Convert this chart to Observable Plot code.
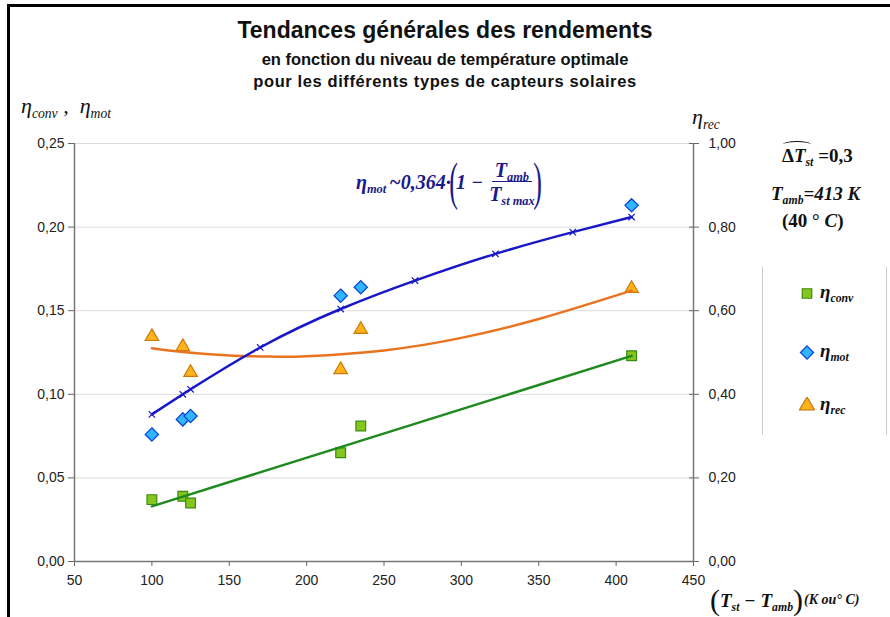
<!DOCTYPE html>
<html><head><meta charset="utf-8">
<script src="https://cdn.jsdelivr.net/npm/d3@7"></script>
<script src="https://cdn.jsdelivr.net/npm/@observablehq/plot@0.6"></script>
<style>
body{margin:0;background:#fff;}
#wrap{position:relative;width:890px;height:617px;overflow:hidden;background:#fff;}
#chart{position:absolute;left:0;top:0;}
.abs{position:absolute;white-space:nowrap;line-height:1;}
.title{font-family:"Liberation Sans",Arial,sans-serif;font-weight:bold;color:#111;text-align:center;width:890px;left:0;}
.m{font-family:"Liberation Serif","Times New Roman",serif;font-style:italic;color:#111;}
.b{font-weight:bold;}
.sub{font-size:62%;position:relative;top:0.35em;}
</style></head>
<body>
<div id="wrap">
<div id="chart"></div>
<div class="abs" style="left:8px;top:4px;width:900px;height:0;border-top:3px solid #000;"></div>
<div class="abs" style="left:7px;top:4px;width:0;height:700px;border-left:3px solid #000;"></div>

<div class="abs title" style="top:19px;font-size:23px;">Tendances générales des rendements</div>
<div class="abs title" style="top:51px;font-size:16.5px;">en fonction du niveau de température optimale</div>
<div class="abs title" style="top:73px;font-size:16.5px;letter-spacing:0.6px;">pour les différents types de capteurs solaires</div>

<div class="abs m" style="left:21px;top:95px;font-size:22px;">η<span class="sub">conv</span> ,&nbsp; η<span class="sub">mot</span></div>
<div class="abs m" style="left:692px;top:106px;font-size:22px;">η<span class="sub">rec</span></div>

<div class="abs m b" style="left:782px;top:146px;font-size:19px;font-style:normal;">Δ<i>T</i><span class="sub"><i>st</i></span> =0,3</div>
<div class="abs" style="left:783px;top:141px;width:28px;height:6px;border-top:1.5px solid #111;border-radius:50% 50% 0 0;"></div>
<div class="abs m b" style="left:771px;top:184px;font-size:19px;"><i>T</i><span class="sub">amb</span>=413 <i>K</i></div>
<div class="abs m b" style="left:782px;top:211px;font-size:19px;font-style:normal;">(40 ° <i>C</i>)</div>

<div class="abs" style="left:762px;top:267px;width:0;height:168px;border-left:1px solid #ccc;"></div>
<div class="abs" style="left:886px;top:267px;width:0;height:168px;border-left:1px solid #ccc;"></div>
<div id="legend"></div>

<div class="abs m b" id="formula" style="left:356px;top:153px;color:#1a1a8c;font-size:20px;display:flex;align-items:center;height:58px;">
  <span>η<span class="sub">mot</span></span><span style="margin-left:3px;">~0,364·</span>
  <span style="font-size:52px;font-style:normal;font-weight:normal;transform:scaleX(0.5);display:inline-block;margin:0 -6px;">(</span>
  <span>1 −</span>
  <span style="display:inline-flex;flex-direction:column;align-items:center;margin-left:6px;">
    <span style="border-bottom:1.5px solid #1a1a8c;padding:0 3px 1px;">T<span class="sub">amb</span></span>
    <span style="padding-top:2px;">T<span class="sub">st max</span></span>
  </span>
  <span style="font-size:52px;font-style:normal;font-weight:normal;transform:scaleX(0.5);display:inline-block;margin:0 -6px;">)</span>
</div>

<div class="abs m b" style="left:710px;top:585px;font-size:19px;display:flex;align-items:center;">
  <span style="font-size:30px;font-weight:normal;font-style:normal;">(</span><span>T<span class="sub">st</span> − T<span class="sub">amb</span></span><span style="font-size:30px;font-weight:normal;font-style:normal;">)</span><span style="font-size:14px;margin-left:1px;">(K ou° C)</span>
</div>
</div>

<script>
const deltaT = [100, 120, 125, 222, 235, 410];
const etaConv = [0.037, 0.039, 0.035, 0.065, 0.081, 0.123];
const etaMot = [0.076, 0.085, 0.087, 0.159, 0.164, 0.213];
const etaRec = [0.538, 0.514, 0.452, 0.459, 0.555, 0.653];

const convFitX = [100, 410];
const convFitY = [0.033, 0.123];
const motCurveX = [100, 120, 125, 170, 222, 270, 322, 372, 410];
const motCurveY = [0.088, 0.100, 0.103, 0.128, 0.151, 0.168, 0.184, 0.197, 0.206];
const recCurveX = [100, 120, 150, 180, 200, 250, 300, 350, 410];
const recCurveY = [0.510, 0.501, 0.493, 0.490, 0.491, 0.505, 0.535, 0.580, 0.648];

const leftTicks = [0, 0.05, 0.10, 0.15, 0.20, 0.25];
const rightTicks = [0, 0.20, 0.40, 0.60, 0.80, 1.00];
const xTicks = [50, 100, 150, 200, 250, 300, 350, 400, 450];
const recScale = 4;

const pts = deltaT.map((x, i) => ({x, conv: etaConv[i], mot: etaMot[i], rec: etaRec[i]}));
const conv = convFitX.map((x, i) => ({x, y: convFitY[i]}));
const mot = motCurveX.map((x, i) => ({x, y: motCurveY[i]}));
const rec = recCurveX.map((x, i) => ({x, y: recCurveY[i] / recScale}));
const comma = d => d.toFixed(2).replace(".", ",");

const green = {fill: "#84c51e", stroke: "#3d8a10"};
const blue = {fill: "#2fb6ff", stroke: "#0a3fcf"};
const orange = {fill: "#ffb21c", stroke: "#c97a08"};

const chart = Plot.plot({
  width: 890, height: 617,
  marginLeft: 74, marginRight: 197, marginTop: 143, marginBottom: 56,
  style: {fontFamily: "'Liberation Sans', Arial, sans-serif", fontSize: "14px", color: "#222", background: "transparent"},
  x: {domain: [50, 450]},
  y: {domain: [0, 0.25]},
  marks: [
    Plot.ruleY(leftTicks.slice(1), {stroke: "#dcdcdc", strokeWidth: 1}),
    Plot.axisX({ticks: xTicks, tickSize: 5, tickPadding: 9, tickFormat: d => d, label: null, stroke: "#666"}),
    Plot.axisY({ticks: leftTicks, tickSize: 6, tickPadding: 4, tickFormat: comma, label: null, stroke: "#666"}),
    Plot.axisY({anchor: "right", ticks: rightTicks.map(d => d / recScale), tickSize: 10, dx: -5, tickPadding: 10, tickFormat: d => comma(d * recScale), label: null, stroke: "#666"}),
    Plot.ruleX([50], {stroke: "#777", strokeWidth: 1.5}),
    Plot.ruleX([450], {stroke: "#777", strokeWidth: 1.5}),
    Plot.ruleY([0], {stroke: "#777", strokeWidth: 1.5}),
    Plot.dot(pts, {x: "x", y: "conv", symbol: "square", r: 5.5, fill: green.fill, stroke: green.stroke, strokeWidth: 1.2}),
    Plot.dot(pts, {x: "x", y: "mot", symbol: "diamond2", r: 6, fill: blue.fill, stroke: blue.stroke, strokeWidth: 1.2}),
    Plot.dot(pts, {x: "x", y: d => d.rec / recScale, symbol: "triangle", r: 5, fill: orange.fill, stroke: orange.stroke, strokeWidth: 1.2}),
    Plot.line(conv, {x: "x", y: "y", stroke: "#1f8a1f", strokeWidth: 2.5}),
    Plot.line(rec, {x: "x", y: "y", stroke: "#ea7320", strokeWidth: 2.5, curve: "natural"}),
    Plot.line(mot, {x: "x", y: "y", stroke: "#1818c8", strokeWidth: 2.5, curve: "natural"}),
    Plot.dot(mot, {x: "x", y: "y", symbol: "times", r: 3, stroke: "#1818c8", strokeWidth: 1.2})
  ]
});
document.getElementById("chart").appendChild(chart);

// legend
const legendItems = [
  {label: "conv", sym: "square", c: green, y: 293},
  {label: "mot", sym: "diamond2", c: blue, y: 352},
  {label: "rec", sym: "triangle", c: orange, y: 405}
];
const lg = document.getElementById("legend");
legendItems.forEach(it => {
  const svg = d3.create("svg").attr("width", 16).attr("height", 16)
    .style("position", "absolute").style("left", "799px").style("top", (it.y - 8) + "px");
  const type = {square: d3.symbolSquare, diamond2: d3.symbolDiamond2, triangle: d3.symbolTriangle}[it.sym];
  const size = {square: 90, diamond2: 110, triangle: 95}[it.sym];
  svg.append("path").attr("transform", "translate(8,8.5)")
    .attr("d", d3.symbol(type, size)()).attr("fill", it.c.fill).attr("stroke", it.c.stroke).attr("stroke-width", 1.2);
  lg.appendChild(svg.node());
  const t = document.createElement("div");
  t.className = "abs m b";
  t.style.left = "820px"; t.style.top = (it.y - 11) + "px"; t.style.fontSize = "19px";
  t.innerHTML = "η<span class='sub'>" + it.label + "</span>";
  lg.appendChild(t);
});
</script>
</body></html>
